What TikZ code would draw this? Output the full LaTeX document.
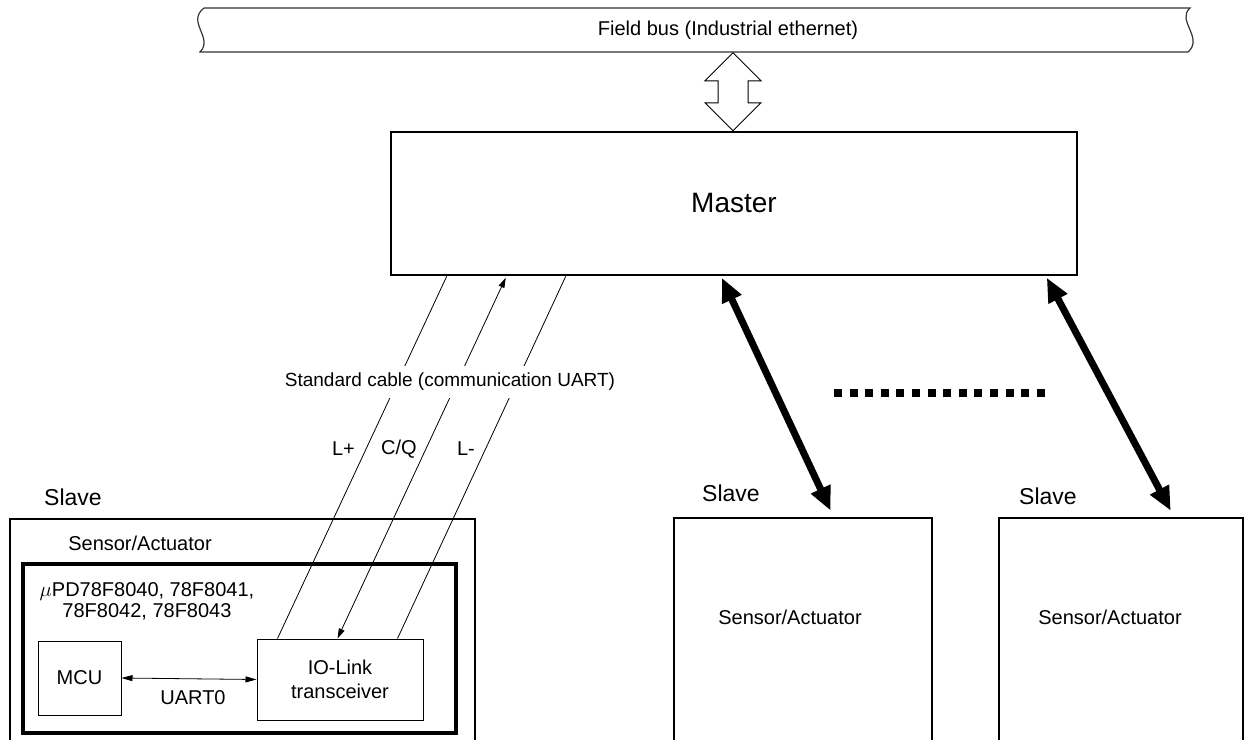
\documentclass[tikz,border=0pt]{standalone}
\usepackage{fontspec}
\setmainfont{Liberation Sans}
\usetikzlibrary{arrows.meta,calc}
\begin{document}
\begin{tikzpicture}[x=1pt,y=-1pt,
  lbl/.style={font=\fontsize{20}{23}\selectfont, inner sep=0pt, align=center},
  bigbox/.style={draw, line width=2.5pt, inner sep=0pt},
  chipbox/.style={draw, line width=3.2pt, inner sep=0pt},
  thinbox/.style={draw, line width=1pt, inner sep=0pt, align=center,
    font=\fontsize{20}{24}\selectfont},
  cable/.style={line width=0.8pt},
  fatlink/.style={line width=7pt, {Triangle[length=24pt,width=20pt]}-{Triangle[length=24pt,width=20pt]}}]
\useasboundingbox (0,0) rectangle (1253,739);
\clip (0,0) rectangle (1253,739);

% field bus
\draw[line width=1.2pt, black!80] (204,8) -- (1190,8)
  .. controls (1176,20) and (1204,38) .. (1188,52) -- (200,52)
  .. controls (214,38) and (186,22) .. (204,8);
\node[lbl] (bus) at (728,30) {Field bus (Industrial ethernet)};

% master
\node[bigbox, minimum width=686, minimum height=143] (master) at (734,203.5) {};
\node[font=\fontsize{28}{32}\selectfont, inner sep=0pt] (mastertext) at (master.center) {Master};

% hollow double arrow between bus and master
\coordinate (ha) at ($(master.north)+(-1,0)$);
\draw[line width=1pt, fill=white] (ha) -- ++(-28,-28) -- ++(13,0) -- ++(0,-22) -- ++(-13,0)
  -- ++(28,-28) -- ++(28,28) -- ++(-13,0) -- ++(0,22) -- ++(13,0) -- cycle;

% slaves
\node[bigbox, minimum width=465, minimum height=241] (slave1) at (242.5,639.5) {};
\node[bigbox, minimum width=258, minimum height=242] (slave2) at (803,639) {};
\node[bigbox, minimum width=244, minimum height=242] (slave3) at (1121,639) {};
\node[font=\fontsize{23}{26}\selectfont, inner sep=0pt] (s1lbl) at (73,497) {Slave};
\node[font=\fontsize{23}{26}\selectfont, inner sep=0pt] (s2lbl) at (731,493) {Slave};
\node[font=\fontsize{23}{26}\selectfont, inner sep=0pt] (s3lbl) at (1048,496) {Slave};
\node[lbl] (sa1) at (140,543) {Sensor/Actuator};
\node[lbl] (sa2) at (790,617) {Sensor/Actuator};
\node[lbl] (sa3) at (1110,617) {Sensor/Actuator};

% chip inside slave 1
\node[chipbox, minimum width=433, minimum height=169] (chip) at (239.5,648.5) {};
\node[lbl, font=\fontsize{20}{21}\selectfont] (chiplbl) at (147,601) {$\mu$PD78F8040, 78F8041,\\78F8042, 78F8043};
\node[thinbox, minimum width=83, minimum height=74] (mcu) at (79.5,678) {MCU};
\node[thinbox, minimum width=166, minimum height=81] (iol) at (340,679.5) {IO-Link\\transceiver};
\draw[line width=0.8pt, {Triangle[length=11pt,width=6pt]}-{Triangle[length=11pt,width=6pt]}]
  (mcu.east) -- (iol.west);
\node[lbl] (uart) at (193,698) {UART0};

% standard cable
\coordinate (m1) at ($(master.south west)+(57,0)$);
\coordinate (m2) at ($(master.south west)+(116,1.5)$);
\coordinate (m3) at ($(master.south west)+(176,0)$);
\coordinate (t1) at ($(iol.north west)+(21,0)$);
\coordinate (t2) at ($(iol.north west)+(81,0)$);
\coordinate (t3) at ($(iol.north west)+(141,0)$);
\draw[cable] (m1) -- (t1);
\draw[cable, {Triangle[length=10pt,width=6pt]}-{Triangle[length=10pt,width=6pt]}] (m2) -- (t2);
\draw[cable] (m3) -- (t3);
\node[lbl, font=\fontsize{19}{22}\selectfont, fill=white, inner xsep=1pt, inner ysep=7pt] (cablelbl) at (450,382) {Standard cable (communication UART)};
\node[lbl, anchor=east] (lplus) at (355,449) {L+};
\node[lbl, anchor=east] (cq) at (417,449) {C/Q};
\node[lbl, anchor=east] (lminus) at (475,449) {L-};

% links to the other slaves
\draw[fatlink] ($(master.south west)+(332,1.5)$) -- ($(slave2.north west)+(158,-6)$);
\draw[fatlink] ($(master.south west)+(657,1.5)$) -- ($(slave3.north west)+(173,-6)$);

% more slaves
\draw[line width=8pt, dash pattern=on 8pt off 7.6pt] (834,393) -- (1045,393);
\end{tikzpicture}
\end{document}
